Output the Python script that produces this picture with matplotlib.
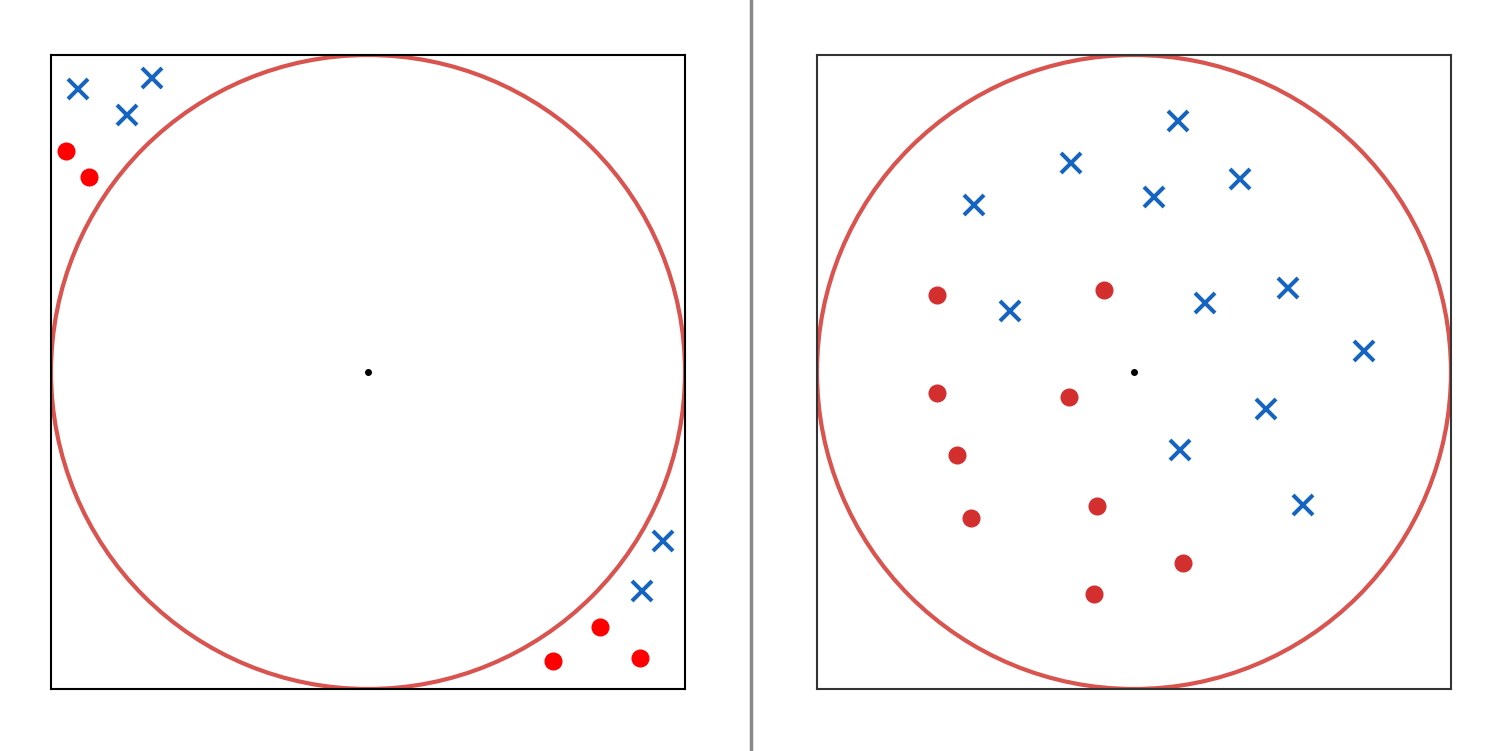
import matplotlib
matplotlib.use("Agg")
import matplotlib.pyplot as plt
from matplotlib.patches import Circle
from matplotlib.lines import Line2D

# Left panel (points outside the inscribed circle)
left_cross_x = [-0.915, -0.681, -0.760, 0.931, 0.864]
left_cross_y = [0.893, 0.927, 0.811, -0.533, -0.691]
left_dot_x = [-0.953, -0.880, 0.732, 0.584, 0.858]
left_dot_y = [0.697, 0.615, -0.804, -0.912, -0.902]

# Right panel (points inside the circle)
right_cross_x = [0.139, -0.199, 0.334, -0.505, 0.063, -0.391, 0.224, 0.486, 0.726, 0.416, 0.145, 0.533]
right_cross_y = [0.792, 0.659, 0.609, 0.527, 0.552, 0.192, 0.218, 0.265, 0.066, -0.117, -0.246, -0.420]
right_dot_x = [-0.621, -0.095, -0.621, -0.205, -0.558, -0.514, -0.117, 0.155, -0.126]
right_dot_y = [0.243, 0.259, -0.066, -0.079, -0.262, -0.461, -0.423, -0.603, -0.700]

W, H = 1500, 751
fig = plt.figure(figsize=(15, 7.51), dpi=100)
fig.patch.set_facecolor("white")

def make_ax(left_px, frame_color):
    ax = fig.add_axes([left_px / W, (H - 689) / H, 634 / W, 634 / H])
    ax.set_xlim(-1, 1)
    ax.set_ylim(-1, 1)
    ax.set_xticks([])
    ax.set_yticks([])
    for s in ax.spines.values():
        s.set_color(frame_color)
        s.set_linewidth(1.5)
    ax.add_patch(Circle((0, 0), 1, fill=False, edgecolor="#d9534f", linewidth=3.0, zorder=2))
    ax.plot([0], [0], "o", color="black", markersize=4, zorder=3)
    return ax

axL = make_ax(51, "black")
axL.plot(left_cross_x, left_cross_y, "x", color="#1565c0", markersize=14, mew=2.9, linestyle="none", zorder=4)
axL.plot(left_dot_x, left_dot_y, "o", color="#ff0000", markersize=12, linestyle="none", zorder=4)

axR = make_ax(817, "#333333")
axR.plot(right_cross_x, right_cross_y, "x", color="#1565c0", markersize=14, mew=2.9, linestyle="none", zorder=4)
axR.plot(right_dot_x, right_dot_y, "o", color="#d32f2f", markersize=12, linestyle="none", zorder=4)

fig.add_artist(Line2D([750.5 / W, 750.5 / W], [0, 1], color="#888888", linewidth=2.5, transform=fig.transFigure))

fig.savefig("out.png", dpi=100, facecolor="white")
